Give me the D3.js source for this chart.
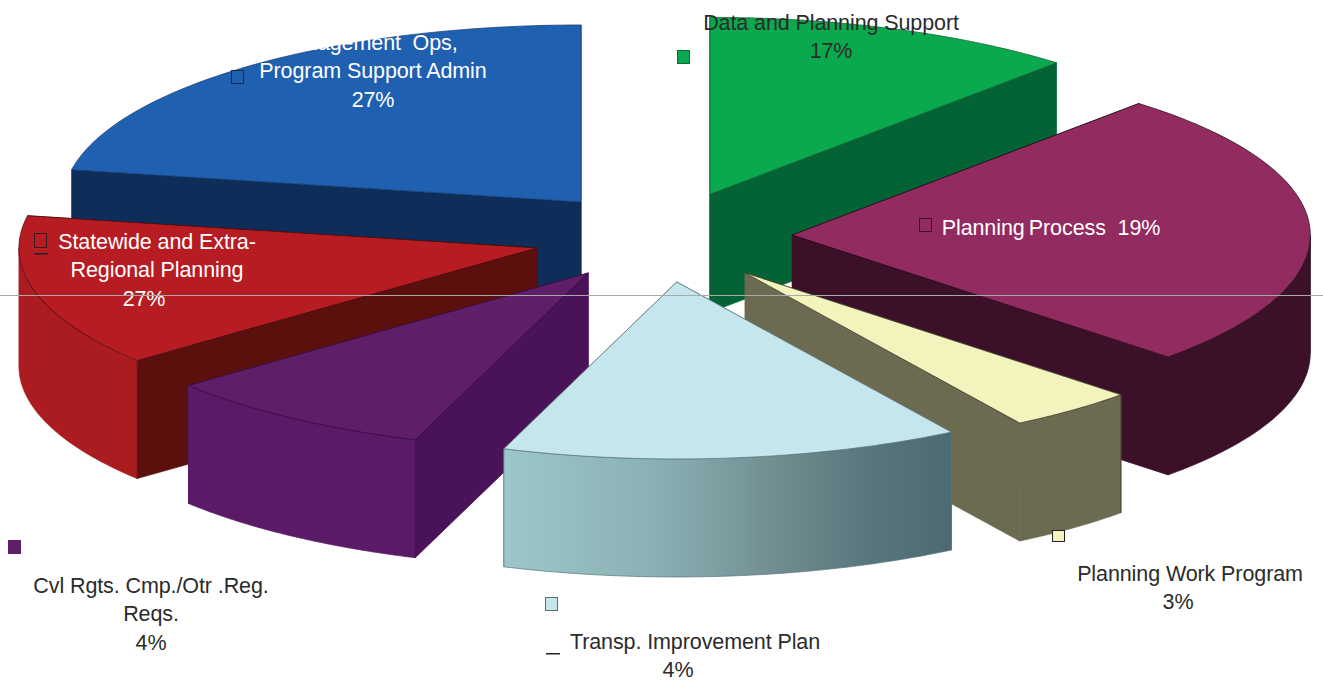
<!DOCTYPE html>
<html>
<head>
<meta charset="utf-8">
<script src="https://cdn.jsdelivr.net/npm/d3@7"></script>
<style>
    html, body { margin: 0; padding: 0; background: #fff; overflow: hidden; }
    svg { display: block; }
    text { font-family: "Liberation Sans", Arial, sans-serif; font-size: 21.5px; letter-spacing: -0.1px; }
</style>
</head>
<body>
<div id="chart"></div>
<script>
const categories = ["Data and Planning Support", "Planning Process", "Planning Work Program",
    "Transp. Improvement Plan", "Cvl Rgts. Cmp./Otr .Reg. Reqs.",
    "Statewide and Extra-Regional Planning", "Management Ops, Program Support Admin"];

// the percentages printed on the chart
const printedPercent = [17, 19, 3, 4, 4, 27, 27];

// the drawn wedges do not follow the printed numbers, these are the sweeps (degrees)
const drawnSweep = [42, 91.5, 14.5, 51.5, 31, 50, 79.5];

// how far each wedge is pulled from the centre, in units of the radius
const pullX = [0.135, 0.294, 0.203, 0.071, -0.100, -0.199, -0.114];
const pullY = [0.258, 0.028, -0.186, -0.237, -0.186, -0.045, 0.215];

const topColors = ["#0ba94e", "#922b60", "#f3f3bd", "#c5e6ec", "#5e1f68", "#b71c22", "#2060b0"];
const cutColors = ["#036334", "#3b1028", "#6c6a50", "#6c6a50", "#4a1259", "#5c100e", "#0e2d59"];
const rimColors = ["#036334", "#3b1028", "#6c6a50", "url(#tip-rim)", "#5a1a66", "#ab1c21", "#0e2d59"];
const edgeColors = ["#0b5a30", "#1f0814", "#2e2e20", "#55757c", "#2f0c38", "#3a0c0c", "#123a70"];

// back to front
const drawOrder = [6, 0, 1, 5, 4, 2, 3];

const labelLines = [
    ["Data and Planning Support", "17%"],
    ["Planning\u2009Process  19%"],
    ["Planning Work Program", "3%"],
    ["Transp. Improvement Plan", "4%"],
    ["Cvl Rgts. Cmp./Otr .Reg.", "Reqs.", "4%"],
    ["Statewide and Extra-", "Regional Planning", "27%"],
    ["Management  Ops,", "Program Support Admin", "27%"]
];

const width = 1323;
const height = 687;
const cx = 640, cy = 240, rx = 518, ry = 177, depth = 118;
const rowHeight = 28.7;

const labelX = [831, 1051, 1190, 695, 151, 157, 373];
const labelY = [29.5, 234.5, 580.5, 648.5, 592.5, 248.5, 49.5];
const labelFill = ["#2b2b2b", "#fff", "#2b2b2b", "#2b2b2b", "#2b2b2b", "#fff", "#fff"];
// some lines sit off centre from the others
const lineShift = [[0, 0], [0], [0, -12], [0, -17], [0, 0, 0], [0, 0, -13], [-6, 0, 0]];

const markerX = [677, 919, 1052, 545, 8, 34, 231];
const markerY = [50, 218, 530, 597, 540, 233, 70];
const markerH = [13, 13, 11, 13, 13, 14, 13];
const markerEdge = ["#0a6a38", "#3b1028", "#222", "#667", "#5e1f68", "#3a1a1a", "#1c2a44"];
const dashX = [null, null, null, 546, null, 34, null];
const dashY = [null, null, null, 653, null, 253, null];

const xScale = d3.scaleLinear().domain([-1, 1]).range([cx - rx, cx + rx]);
const yScale = d3.scaleLinear().domain([-1, 1]).range([cy + ry, cy - ry]);

const pie = d3.pie().sort(null).value(d => d);
const wedges = pie(drawnSweep);

const svg = d3.select("#chart").append("svg")
    .attr("width", width)
    .attr("height", height);

const grad = svg.append("defs").append("linearGradient")
    .attr("id", "tip-rim")
    .attr("x1", "0%").attr("y1", "0%")
    .attr("x2", "100%").attr("y2", "0%");
[[0, "#9cc7ca"], [0.35, "#8ab0b3"], [0.62, "#6f8c90"], [0.8, "#5a777d"], [1, "#4c6a73"]].forEach(s => {
    grad.append("stop").attr("offset", s[0]).attr("stop-color", s[1]);
});

const line = d3.line().x(d => d[0]).y(d => d[1]);

// point on the rim of wedge i at pie angle a (0 = straight back, clockwise)
function rimPoint(i, a, drop) {
    return [
        xScale(pullX[i] + Math.sin(a)),
        yScale(pullY[i] + Math.cos(a)) + drop
    ];
}

function apexPoint(i, drop) {
    return [xScale(pullX[i]), yScale(pullY[i]) + drop];
}

function arcPoints(i, a0, a1, drop) {
    return d3.range(0, 61).map(k => rimPoint(i, a0 + (a1 - a0) * k / 60, drop));
}

function addFace(points, fill, edge) {
    svg.append("path")
        .attr("d", line(points) + "Z")
        .attr("fill", fill)
        .attr("stroke", edge)
        .attr("stroke-width", 0.7)
        .attr("stroke-linejoin", "round");
}

drawOrder.forEach(i => {
    const w = wedges[i];

    // the two cut faces
    [w.startAngle, w.endAngle].forEach(a => {
        addFace([apexPoint(i, 0), rimPoint(i, a, 0), rimPoint(i, a, depth), apexPoint(i, depth)],
            cutColors[i], cutColors[i]);
    });

    // outer wall, only the part turned to the viewer
    const from = Math.max(w.startAngle, Math.PI / 2);
    const to = Math.min(w.endAngle, Math.PI * 3 / 2);
    if (to > from) {
        addFace(arcPoints(i, from, to, 0).concat(arcPoints(i, to, from, depth)), rimColors[i], rimColors[i] === "url(#tip-rim)" ? "#55757c" : rimColors[i]);
        // corner line where the rim meets the cut face
        svg.append("path")
            .attr("d", line([rimPoint(i, from, 0), rimPoint(i, from, depth)]))
            .attr("stroke", edgeColors[i])
            .attr("stroke-width", 0.6)
            .attr("fill", "none");
    }

    addFace([apexPoint(i, 0)].concat(arcPoints(i, w.startAngle, w.endAngle, 0)), topColors[i], edgeColors[i]);
});

// legend keys
categories.forEach((c, i) => {
    svg.append("rect")
        .attr("x", markerX[i] + 0.5)
        .attr("y", markerY[i] + 0.5)
        .attr("width", 12)
        .attr("height", markerH[i])
        .attr("fill", topColors[i])
        .attr("stroke", markerEdge[i])
        .attr("stroke-width", 1);
    if (dashX[i] !== null) {
        svg.append("rect")
            .attr("x", dashX[i])
            .attr("y", dashY[i])
            .attr("width", 14)
            .attr("height", 1.5)
            .attr("fill", "#222");
    }
});

// labels
labelLines.forEach((lines, i) => {
    lines.forEach((t, k) => {
        svg.append("text")
            .attr("x", labelX[i] + lineShift[i][k])
            .attr("y", labelY[i] + k * rowHeight)
            .attr("text-anchor", "middle")
            .attr("fill", labelFill[i])
            .style("white-space", "pre")
            .text(t);
    });
});

// thin rule that runs over everything
svg.append("rect")
    .attr("x", 0)
    .attr("y", 295)
    .attr("width", width)
    .attr("height", 1)
    .attr("fill", "#a9a9a9");
</script>
</body>
</html>
